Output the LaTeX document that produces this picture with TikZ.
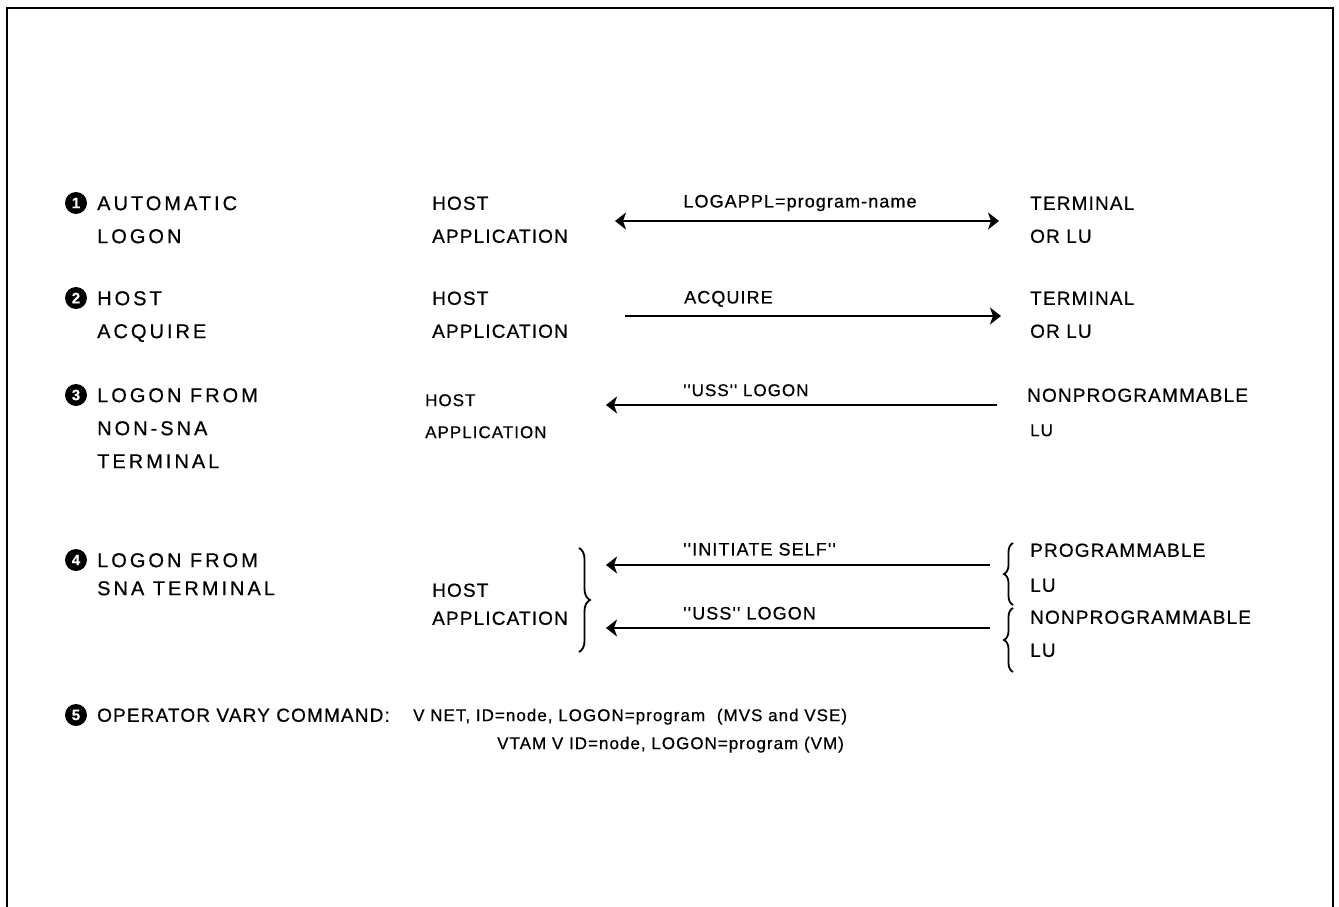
\documentclass[tikz,border=0pt]{standalone}
\usepackage{fontspec}
\newfontfamily\ibm{Liberation Sans}[LetterSpace=6, FakeBold=0.6]
\newfontfamily\ibmwide{Liberation Sans}[LetterSpace=15, FakeBold=0.6]
\usetikzlibrary{arrows.meta,decorations.pathreplacing}

\begin{document}
\begin{tikzpicture}[x=1pt,y=-1pt,
  >={Stealth[length=11pt,width=17pt,inset=3pt]},
  txt/.style={anchor=west, inner sep=0pt, text height=13.6pt, text depth=0pt,
    font={\ibm\fontsize{19}{19}\selectfont}},
  item/.style={anchor=west, inner sep=0pt, text height=14.3pt, text depth=0pt,
    font={\ibmwide\fontsize{20}{20}\selectfont}},
  small/.style={anchor=west, inner sep=0pt, text height=12.2pt, text depth=0pt,
    font={\ibm\fontsize{17}{17}\selectfont}},
  lab/.style={inner sep=0pt, text height=12.9pt, text depth=0pt,
    font={\ibm\fontsize{18}{18}\selectfont}},
  cmd/.style={anchor=west, inner sep=0pt, text height=12.2pt, text depth=0pt,
    font={\ibm\fontsize{17}{17}\selectfont}},
  num/.style={circle, fill=black, text=white, inner sep=0pt, minimum size=22pt,
    font={\ibm\bfseries\fontsize{15}{15}\selectfont}},
  arr/.style={line width=2.6pt},
  brc/.style={line width=1.8pt, decorate, decoration={brace, amplitude=11pt}},
  frame/.style={line width=1.6pt}]

\useasboundingbox (0,0) rectangle (1339,907);

% open frame
\draw[frame] (7,907) -- (7,8) -- (1333,8) -- (1333,907);
\draw[line width=2.6pt] (7,8) -- (1333,8);

% 1 automatic logon
\node[num] (n1) at (76,203) {1};
\node[item] (l1a) at (97,203) {AUTOMATIC};
\node[item] (l1b) at (97,236) {LOGON};
\node[txt] (h1a) at (432,203) {HOST};
\node[txt] (h1b) at (432,236) {APPLICATION};
\node[txt] (t1a) at (1030,203) {TERMINAL};
\node[txt] (t1b) at (1030,236) {OR LU};
\coordinate (a1s) at (615,221);
\coordinate (a1e) at (999,221);
\draw[arr, <->] (a1s) -- (a1e);
\node[lab] (m1) at (800,201) {LOGAPPL=program-name};

% 2 host acquire
\node[num] (n2) at (76,298) {2};
\node[item] (l2a) at (97,298) {HOST};
\node[item] (l2b) at (97,331) {ACQUIRE};
\node[txt] (h2a) at (432,298) {HOST};
\node[txt] (h2b) at (432,331) {APPLICATION};
\node[txt] (t2a) at (1030,298) {TERMINAL};
\node[txt] (t2b) at (1030,331) {OR LU};
\coordinate (a2s) at (625,316);
\coordinate (a2e) at (1001,316);
\draw[arr, ->] (a2s) -- (a2e);
\node[lab, anchor=west] (m2) at (684,297) {ACQUIRE};

% 3 logon from non-SNA terminal
\node[num] (n3) at (76,395) {3};
\node[item] (l3a) at (97,395) {LOGON FROM};
\node[item] (l3b) at (97,428) {NON-SNA};
\node[item] (l3c) at (97,461) {TERMINAL};
\node[small] (h3a) at (425,400) {HOST};
\node[small] (h3b) at (425,432) {APPLICATION};
\node[txt] (t3a) at (1027,395) {NONPROGRAMMABLE};
\node[small] (t3b) at (1030,430) {LU};
\coordinate (a3s) at (997,405);
\coordinate (a3e) at (606,405);
\draw[line width=2pt, ->] (a3s) -- (a3e);
\node[small] (m3) at (683,390) {''USS'' LOGON};

% 4 logon from SNA terminal
\node[num] (n4) at (76,560) {4};
\node[item] (l4a) at (97,560) {LOGON FROM};
\node[item] (l4b) at (97,588) {SNA TERMINAL};
\node[txt] (h4a) at (432,590) {HOST};
\node[txt] (h4b) at (432,618) {APPLICATION};
\coordinate (b4t) at (579,548);
\coordinate (b4b) at (579,652);
\draw[brc] (b4t) -- (b4b);
\coordinate (a4s) at (990,565);
\coordinate (a4e) at (606,565);
\draw[arr, ->] (a4s) -- (a4e);
\node[lab, anchor=west] (m4a) at (683,549) {''INITIATE SELF''};
\coordinate (a5s) at (990,628);
\coordinate (a5e) at (606,628);
\draw[arr, ->] (a5s) -- (a5e);
\node[lab, anchor=west] (m4b) at (683,613) {''USS'' LOGON};
\coordinate (r1b) at (1013,605);
\coordinate (r1t) at (1013,543);
\draw[brc, decoration={amplitude=9pt}] (r1b) -- (r1t);
\coordinate (r2b) at (1013,672);
\coordinate (r2t) at (1013,608);
\draw[brc, decoration={amplitude=9pt}] (r2b) -- (r2t);
\node[txt] (p1) at (1030,550) {PROGRAMMABLE};
\node[txt] (p2) at (1030,585) {LU};
\node[txt] (p3) at (1030,617) {NONPROGRAMMABLE};
\node[txt] (p4) at (1030,650) {LU};

% 5 operator vary command
\node[num] (n5) at (76,715) {5};
\node[txt] (c1) at (97,715) {OPERATOR VARY COMMAND:};
\node[cmd] (c2) at (413,715) {V NET, ID=node, LOGON=program\hspace{6pt} (MVS and VSE)};
\node[cmd] (c3) at (497,743) {VTAM V ID=node, LOGON=program (VM)};

\end{tikzpicture}
\end{document}
